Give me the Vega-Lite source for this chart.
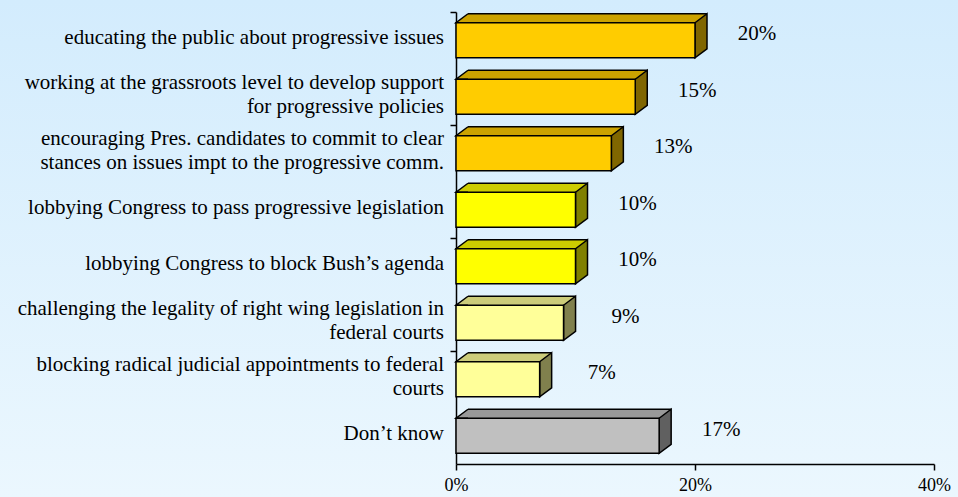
{
  "$schema": "https://vega.github.io/schema/vega-lite/v6.json",
  "width": 958,
  "height": 497,
  "autosize": {"type": "none"},
  "padding": 0,
  "background": "#e0f2fd",
  "config": {
    "view": {
      "stroke": null,
      "fill": {"gradient": "linear", "x1": 0, "y1": 0, "x2": 0, "y2": 1,
        "stops": [{"offset": 0, "color": "#d3ecfd"}, {"offset": 1, "color": "#ebf7fe"}]}
    }
  },
  "data": {
    "values": [
      {"line1": "educating the public about progressive issues", "line2": "", "share": 0.20, "tier": "a"},
      {"line1": "working at the grassroots level to develop support", "line2": "for progressive policies", "share": 0.15, "tier": "a"},
      {"line1": "encouraging Pres. candidates to commit to clear", "line2": "stances on issues impt to the progressive comm.", "share": 0.13, "tier": "a"},
      {"line1": "lobbying Congress to pass progressive legislation", "line2": "", "share": 0.10, "tier": "b"},
      {"line1": "lobbying Congress to block Bush’s agenda", "line2": "", "share": 0.10, "tier": "b"},
      {"line1": "challenging the legality of right wing legislation in", "line2": "federal courts", "share": 0.09, "tier": "c"},
      {"line1": "blocking radical judicial appointments to federal", "line2": "courts", "share": 0.07, "tier": "c"},
      {"line1": "Don’t know", "line2": "", "share": 0.17, "tier": "d"}
    ]
  },
  "encoding": {
    "y": {
      "field": "line1", "type": "nominal", "sort": null,
      "scale": {"type": "band", "range": [12, 464], "paddingInner": 0, "paddingOuter": 0},
      "axis": {
        "title": null, "orient": "left", "offset": -456, "labels": false,
        "values": ["educating the public about progressive issues", "encouraging Pres. candidates to commit to clear", "lobbying Congress to block Bush’s agenda", "blocking radical judicial appointments to federal"],
        "bandPosition": 0,
        "domainColor": "black", "domainWidth": 1.5,
        "tickColor": "black", "tickWidth": 1.5, "tickSize": 6
      }
    },
    "x": {
      "field": "share", "type": "quantitative",
      "scale": {"domain": [0, 0.4], "range": [456, 934], "nice": false},
      "axis": {
        "title": null, "orient": "bottom", "offset": -33,
        "values": [0, 0.2, 0.4], "format": ".0%", "grid": false,
        "domainColor": "black", "domainWidth": 1.5,
        "tickColor": "black", "tickWidth": 1.5, "tickSize": 6,
        "labelFont": "Liberation Serif", "labelFontSize": 18, "labelColor": "black",
        "labelPadding": 6, "labelFlush": false
      }
    }
  },
  "layer": [
    {
      "mark": {"type": "rule", "xOffset": 12, "x2Offset": 12, "yOffset": -22, "strokeWidth": 9, "strokeCap": "butt"},
      "encoding": {
        "x2": {"datum": 0},
        "color": {"field": "tier", "type": "nominal", "legend": null,
          "scale": {"domain": ["a", "b", "c", "d"], "range": ["#cca300", "#cccc00", "#cccc7a", "#999999"]}}
      }
    },
    {
      "mark": {"type": "rule", "xOffset": 12, "x2Offset": 12, "yOffset": -26.5, "strokeWidth": 1.5, "color": "black"},
      "encoding": {"x2": {"datum": 0}}
    },
    {
      "mark": {"type": "point", "shape": "M1,-1.4583L0,-1.4583L1,-2.2083", "size": 576, "filled": true, "opacity": 1, "stroke": "black", "strokeWidth": 1.5},
      "encoding": {
        "x": {"datum": 0},
        "color": {"field": "tier", "type": "nominal", "legend": null,
          "scale": {"domain": ["a", "b", "c", "d"], "range": ["#cca300", "#cccc00", "#cccc7a", "#999999"]}}
      }
    },
    {
      "mark": {"type": "point", "shape": "M0,-1.4583L1,-2.2083L1,0.7083L0,1.4583Z", "size": 576, "filled": true, "opacity": 1, "stroke": "black", "strokeWidth": 1.5},
      "encoding": {
        "color": {"field": "tier", "type": "nominal", "legend": null,
          "scale": {"domain": ["a", "b", "c", "d"], "range": ["#806600", "#808000", "#80804d", "#606060"]}}
      }
    },
    {
      "mark": {"type": "bar", "height": {"band": 0.62}, "stroke": "black", "strokeWidth": 1.5},
      "encoding": {
        "color": {"field": "tier", "type": "nominal", "legend": null,
          "scale": {"domain": ["a", "b", "c", "d"], "range": ["#ffcc00", "#ffff00", "#ffff99", "#c0c0c0"]}}
      }
    },
    {
      "mark": {"type": "text", "dx": 62, "dy": -6, "align": "center", "baseline": "middle", "fontSize": 21, "font": "Liberation Serif", "color": "black"},
      "encoding": {"text": {"field": "share", "type": "quantitative", "format": ".0%"}}
    },
    {
      "transform": [{"filter": "datum.line2 == ''"}],
      "mark": {"type": "text", "dx": -12, "dy": -2, "align": "right", "baseline": "middle", "fontSize": 21, "font": "Liberation Serif", "color": "black"},
      "encoding": {"x": {"datum": 0}, "text": {"field": "line1", "type": "nominal"}}
    },
    {
      "transform": [{"filter": "datum.line2 != ''"}],
      "mark": {"type": "text", "dx": -12, "dy": -14, "align": "right", "baseline": "middle", "fontSize": 21, "font": "Liberation Serif", "color": "black"},
      "encoding": {"x": {"datum": 0}, "text": {"field": "line1", "type": "nominal"}}
    },
    {
      "transform": [{"filter": "datum.line2 != ''"}],
      "mark": {"type": "text", "dx": -12, "dy": 10, "align": "right", "baseline": "middle", "fontSize": 21, "font": "Liberation Serif", "color": "black"},
      "encoding": {"x": {"datum": 0}, "text": {"field": "line2", "type": "nominal"}}
    }
  ],
  "resolve": {"scale": {"color": "independent"}}
}
